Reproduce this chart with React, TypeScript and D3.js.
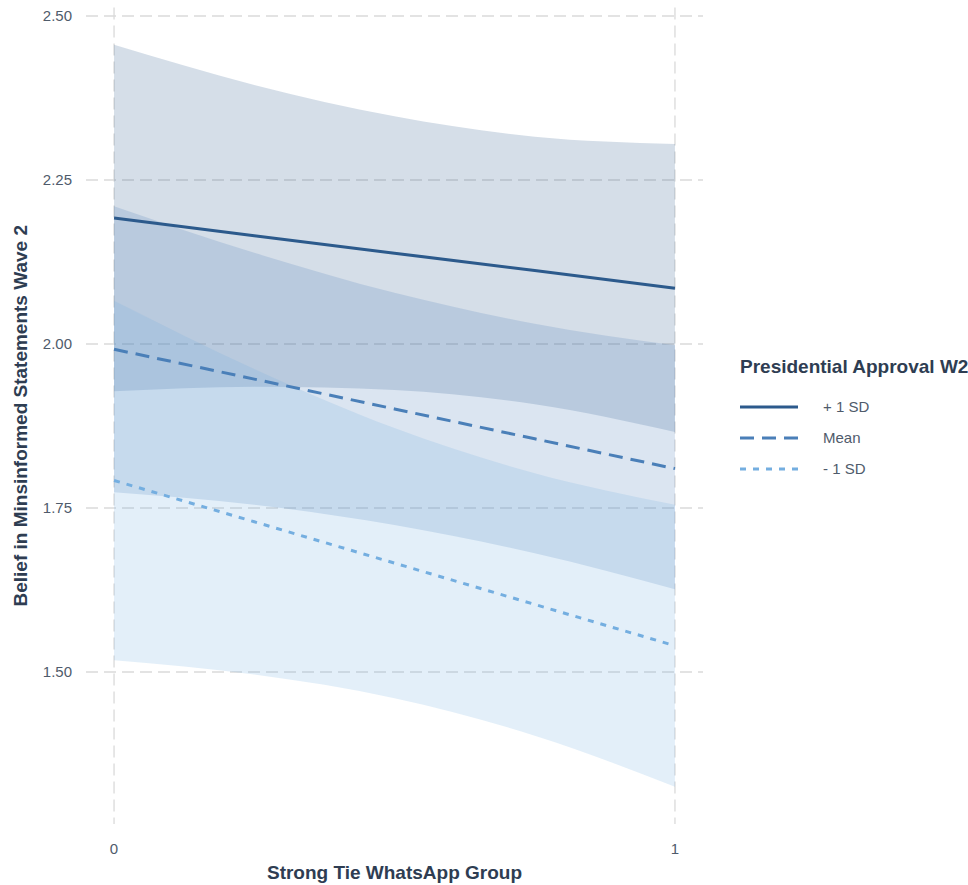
import React from "react";
import * as d3 from "d3";

// Predicted belief in misinformation by WhatsApp group type, at three levels of presidential approval
const xValues = [0, 0.25, 0.5, 0.75, 1];

const highFit = [2.192, 2.165, 2.1385, 2.112, 2.085];
const highUpper = [2.456, 2.395, 2.347, 2.316, 2.305];
const highLower = [1.928, 1.935, 1.93, 1.908, 1.866];

const meanFit = [1.992, 1.9465, 1.901, 1.8555, 1.81];
const meanUpper = [2.21, 2.139, 2.078, 2.031, 1.998];
const meanLower = [1.774, 1.755, 1.724, 1.681, 1.626];

const lowFit = [1.792, 1.729, 1.666, 1.603, 1.54];
const lowUpper = [2.066, 1.962, 1.872, 1.803, 1.755];
const lowLower = [1.518, 1.496, 1.46, 1.403, 1.325];

const groupLabels = ["+ 1 SD", "Mean", "- 1 SD"];
const groupColors = ["#2c5a8c", "#4a7fb8", "#74aee0"];
const groupDash = ["none", "14,8", "6,7"];

const xTicks = [0, 1];
const yTicks = [1.5, 1.75, 2.0, 2.25, 2.5];

const W = 968;
const H = 885;
const panel = { left: 86, right: 703, top: 7.5, bottom: 824 };

export default function App() {
  const x = d3.scaleLinear().domain([-0.05, 1.05]).range([panel.left, panel.right]);
  const y = d3.scaleLinear().domain([1.5, 2.5]).range([672, 16]);

  const series = [
    { fit: highFit, upper: highUpper, lower: highLower },
    { fit: meanFit, upper: meanUpper, lower: meanLower },
    { fit: lowFit, upper: lowUpper, lower: lowLower },
  ];

  const area = (upper: number[], lower: number[]) =>
    d3
      .area<number>()
      .x((d) => x(xValues[d]))
      .y0((d) => y(lower[d]))
      .y1((d) => y(upper[d]))
      .curve(d3.curveMonotoneX)(xValues.map((_, i) => i)) || "";

  const line = (fit: number[]) =>
    d3
      .line<number>()
      .x((d) => x(xValues[d]))
      .y((d) => y(fit[d]))(xValues.map((_, i) => i)) || "";

  const font = "'Liberation Sans', Arial, Helvetica, sans-serif";
  const titleColor = "#2e3d52";
  const tickColor = "#4f5b6b";
  const gridColor = "#dadada";

  return (
    <svg
      width={W}
      height={H}
      style={{ position: "absolute", left: 0, top: 0, background: "#ffffff" }}
      fontFamily={font}
    >
      {/* grid */}
      {yTicks.map((t) => (
        <line
          key={"gy" + t}
          x1={panel.left}
          x2={panel.right}
          y1={y(t)}
          y2={y(t)}
          stroke={gridColor}
          strokeWidth={1.3}
          strokeDasharray="12,6"
        />
      ))}
      {xTicks.map((t) => (
        <line
          key={"gx" + t}
          x1={x(t)}
          x2={x(t)}
          y1={panel.top}
          y2={panel.bottom}
          stroke={gridColor}
          strokeWidth={1.3}
          strokeDasharray="12,6"
        />
      ))}

      {/* confidence ribbons */}
      {series.map((s, i) => (
        <path key={"r" + i} d={area(s.upper, s.lower)} fill={groupColors[i]} fillOpacity={0.2} />
      ))}

      {/* fitted lines */}
      {series.map((s, i) => (
        <path
          key={"l" + i}
          d={line(s.fit)}
          fill="none"
          stroke={groupColors[i]}
          strokeWidth={3}
          strokeDasharray={groupDash[i]}
        />
      ))}

      {/* y tick labels */}
      {yTicks.map((t) => (
        <text
          key={"ty" + t}
          x={72}
          y={y(t)}
          dy="0.35em"
          textAnchor="end"
          fontSize={15}
          fill={tickColor}
        >
          {d3.format(".2f")(t)}
        </text>
      ))}
      {/* x tick labels */}
      {xTicks.map((t) => (
        <text key={"tx" + t} x={x(t)} y={854} textAnchor="middle" fontSize={15} fill={tickColor}>
          {t}
        </text>
      ))}

      {/* axis titles */}
      <text x={x(0.5)} y={879} textAnchor="middle" fontSize={19} fontWeight="bold" fill={titleColor}>
        Strong Tie WhatsApp Group
      </text>
      <text
        transform={`translate(27, ${(panel.top + panel.bottom) / 2}) rotate(-90)`}
        textAnchor="middle"
        fontSize={19}
        fontWeight="bold"
        fill={titleColor}
      >
        Belief in Minsinformed Statements Wave 2
      </text>

      {/* legend */}
      <g>
        <text x={740} y={373} fontSize={19} fontWeight="bold" fill={titleColor}>
          Presidential Approval W2
        </text>
        {groupLabels.map((lab, i) => {
          const ly = 407 + i * 31;
          return (
            <g key={"lg" + i}>
              <line
                x1={740}
                x2={798}
                y1={ly}
                y2={ly}
                stroke={groupColors[i]}
                strokeWidth={3}
                strokeDasharray={groupDash[i]}
              />
              <text x={823} y={ly} dy="0.35em" fontSize={15} fill={tickColor}>
                {lab}
              </text>
            </g>
          );
        })}
      </g>
    </svg>
  );
}
